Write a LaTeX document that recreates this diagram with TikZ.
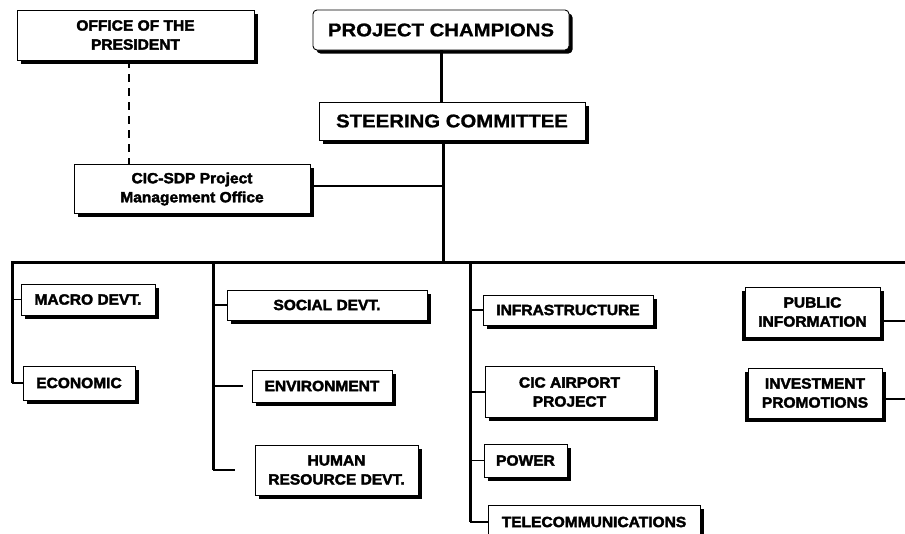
\documentclass[tikz,border=0pt]{standalone}
\usepackage{fontspec}
\setmainfont{Liberation Sans}
\newfontfamily\boxfont{Liberation Sans}[UprightFont=* Bold, FakeStretch=1.05, FakeBold=2.5]
\newfontfamily\headfont{Liberation Sans}[UprightFont=* Bold, FakeStretch=1.1, FakeBold=1]
\usetikzlibrary{shadows}

\tikzset{
  box/.style={draw, fill=white, line width=0.9pt, inner sep=0pt, align=center,
    drop shadow={shadow xshift=3.5pt, shadow yshift=-3.5pt, fill=black, opacity=1},
    font=\boxfont\fontsize{14.8}{19}\selectfont},
  leftshadow/.style={drop shadow={shadow xshift=-3.5pt, shadow yshift=-3.5pt, fill=black, opacity=1}},
  headbox/.style={box, font=\headfont\fontsize{18.5}{20}\selectfont},
  main/.style={line width=3pt},
  stub/.style={line width=1.8pt},
  dotted link/.style={line width=1.6pt, dash pattern=on 8pt off 6pt},
}

\begin{document}
\begin{tikzpicture}[x=1pt, y=-1pt]
\useasboundingbox (0,0) rectangle (905,533);
\clip (0,0) rectangle (905,533);

% top of the chart
\node[headbox, rounded corners=4pt, minimum width=256pt, minimum height=40pt] (champ) at (441,30) {PROJECT CHAMPIONS};
\node[headbox, minimum width=266pt, minimum height=38pt] (steer) at (452,121) {STEERING COMMITTEE};
\node[box, minimum width=237pt, minimum height=50pt] (office) at (135.5,35) {OFFICE OF THE\\PRESIDENT};
\node[box, minimum width=236pt, minimum height=49pt] (pmo) at (192,189) {CIC-SDP Project\\Management Office};

% division boxes
\node[box, minimum width=134pt, minimum height=31pt] (macro) at (88,299.5) {MACRO DEVT.};
\node[box, minimum width=112pt, minimum height=34pt] (econ) at (79,383) {ECONOMIC};
\node[box, minimum width=200pt, minimum height=30pt] (social) at (327,305) {SOCIAL DEVT.};
\node[box, minimum width=140pt, minimum height=32pt] (env) at (322,386) {ENVIRONMENT};
\node[box, minimum width=163pt, minimum height=50pt] (human) at (336.5,470) {HUMAN\\RESOURCE DEVT.};
\node[box, minimum width=170pt, minimum height=30pt] (infra) at (568,310) {INFRASTRUCTURE};
\node[box, minimum width=169pt, minimum height=51pt] (airport) at (569.5,392) {CIC AIRPORT\\PROJECT};
\node[box, minimum width=83pt, minimum height=33pt] (power) at (525.5,460.5) {POWER};
\node[box, minimum width=212pt, minimum height=34pt] (telecom) at (594,522) {TELECOMMUNICATIONS};
\node[box, leftshadow, minimum width=135pt, minimum height=50pt] (public) at (812.5,312) {PUBLIC\\INFORMATION};
\node[box, leftshadow, minimum width=134pt, minimum height=50pt] (invest) at (815,393) {INVESTMENT\\PROMOTIONS};

% junction points of the trunk lines
\coordinate (hub) at (443,262);
\coordinate (busL) at (12,262);
\coordinate (busR) at (910,262);
\coordinate (b2) at (213,262);
\coordinate (b3) at (470,262);

% upper connectors
\draw[main] (champ.south) -- (champ.south |- steer.north);
\draw[main] (steer.south -| hub) -- (hub);
\draw[stub] ([yshift=3pt]pmo.east) -- ([yshift=3pt]pmo.east -| hub);
\draw[dotted link] ([xshift=-6.5pt]office.south) -- ([xshift=-6.5pt]office.south |- pmo.north);

% horizontal bus and first branch
\draw[main] (busR) -- (busL) -- (busL |- econ.west);
\draw[stub] (busL |- econ.west) -- (econ.west);
\draw[stub] (busL |- macro.west) -- (macro.west);

% second branch
\draw[main] (b2) -- (b2 |- human.west);
\draw[stub] (b2 |- social.west) -- (social.west);
\draw[stub, shorten >=9pt] (b2 |- env.west) -- (env.west);
\draw[stub, shorten >=20pt] (b2 |- human.west) -- (human.west);

% third branch
\draw[main] (b3) -- (b3 |- telecom.west);
\draw[stub] (b3 |- infra.west) -- (infra.west);
\draw[stub] (b3 |- airport.west) -- (airport.west);
\draw[stub] (b3 |- power.west) -- (power.west);
\draw[stub] (b3 |- telecom.west) -- (telecom.west);

% links leaving on the right
\draw[stub] ([yshift=-9pt]public.east) -- ([yshift=-9pt]public.east -| busR);
\draw[stub] ([yshift=-6pt]invest.east) -- ([yshift=-6pt]invest.east -| busR);
\end{tikzpicture}
\end{document}
